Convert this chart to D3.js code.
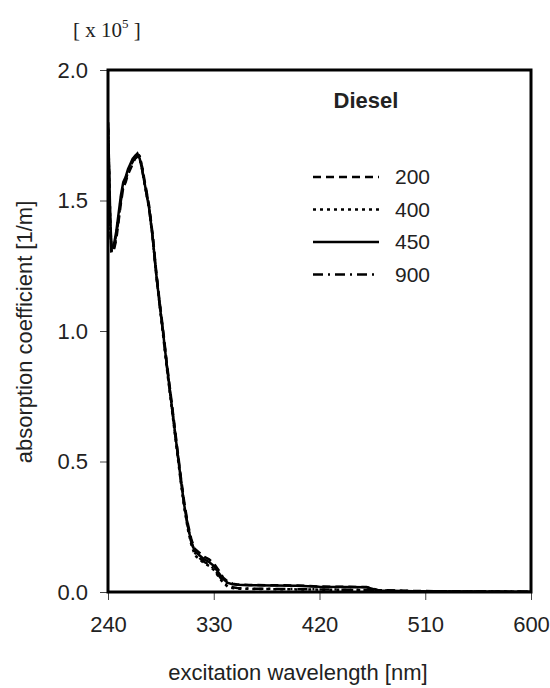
<!DOCTYPE html>
<html>
<head>
<meta charset="utf-8">
<script src="https://cdn.jsdelivr.net/npm/d3@7"></script>
<style>
  body { margin: 0; background: #fff; }
  svg text { font-family: Arial, "Liberation Sans", sans-serif; fill: #222; }
</style>
</head>
<body>
<div id="chart"></div>
<script>
// Diesel absorption spectra, values in units of 1e5 1/m
const wavelengths = [240,241,242,243,245,247,249,251,253,255,257,259,261,263,265,267,269,271,273,275,
  278,281,284,287,290,293,296,299,302,305,308,311,314,318,322,326,330,334,338,342,346,350,
  360,380,400,420,440,460,470,500,550,600];

const s200 = [1.78,1.58,1.38,1.30,1.31,1.35,1.42,1.49,1.55,1.57,1.60,1.62,1.64,1.66,1.67,1.66,1.63,1.58,1.53,1.48,
  1.37,1.23,1.11,1.00,0.88,0.77,0.66,0.55,0.44,0.34,0.26,0.20,0.165,0.15,0.135,0.125,0.11,0.085,0.055,0.04,0.032,0.029,
  0.027,0.026,0.025,0.021,0.02,0.019,0.007,0.004,0.002,0.001];
const s400 = [1.80,1.60,1.40,1.31,1.32,1.37,1.44,1.51,1.56,1.58,1.61,1.63,1.65,1.67,1.68,1.67,1.63,1.57,1.52,1.47,
  1.36,1.22,1.10,0.98,0.86,0.75,0.64,0.53,0.42,0.32,0.24,0.18,0.14,0.125,0.11,0.10,0.085,0.06,0.035,0.02,0.015,0.013,
  0.012,0.011,0.01,0.009,0.008,0.007,0.005,0.003,0.002,0.001];
const s450 = [1.80,1.62,1.42,1.32,1.33,1.38,1.45,1.52,1.57,1.59,1.62,1.64,1.66,1.67,1.68,1.66,1.62,1.57,1.52,1.47,
  1.36,1.22,1.10,0.99,0.87,0.76,0.65,0.54,0.43,0.33,0.25,0.19,0.155,0.14,0.125,0.115,0.10,0.075,0.05,0.035,0.03,0.028,
  0.026,0.025,0.024,0.02,0.019,0.018,0.006,0.003,0.002,0.001];
const s900 = [1.79,1.59,1.39,1.30,1.32,1.36,1.43,1.50,1.55,1.58,1.61,1.63,1.65,1.66,1.67,1.66,1.62,1.57,1.52,1.47,
  1.36,1.22,1.10,0.99,0.87,0.76,0.65,0.54,0.43,0.33,0.25,0.19,0.15,0.13,0.115,0.105,0.09,0.065,0.04,0.025,0.018,0.015,
  0.013,0.012,0.011,0.01,0.009,0.008,0.005,0.003,0.002,0.001];

const seriesNames = ['200', '400', '450', '900'];
const seriesValues = [s200, s400, s450, s900];
const dashes = ['8,5', '3,4', null, '10,5,2,5'];

const xTicks = [240, 330, 420, 510, 600];
const yTicks = [0, 0.5, 1.0, 1.5, 2.0];

const width = 550, height = 688;
const margin = { top: 70, right: 19, bottom: 96, left: 108 };

const svg = d3.select('#chart').append('svg')
  .attr('width', width)
  .attr('height', height);

const x = d3.scaleLinear().domain([240, 600]).range([margin.left, width - margin.right]);
const y = d3.scaleLinear().domain([0, 2]).range([height - margin.bottom, margin.top]);

svg.append('clipPath').attr('id', 'clip')
  .append('rect')
  .attr('x', margin.left).attr('y', margin.top)
  .attr('width', x(600) - x(240)).attr('height', y(0) - y(2));

// ticks
const xAxis = svg.append('g')
  .attr('transform', `translate(0,${y(0)})`)
  .call(d3.axisBottom(x).tickValues(xTicks).tickSize(8).tickPadding(16).tickFormat(d3.format('d')));
const yAxis = svg.append('g')
  .attr('transform', `translate(${x(240)},0)`)
  .call(d3.axisLeft(y).tickValues(yTicks).tickSize(8).tickPadding(12).tickFormat(d3.format('.1f')));

[xAxis, yAxis].forEach(a => {
  a.select('.domain').remove();
  a.selectAll('.tick line').attr('stroke', '#444').attr('stroke-width', 1);
  a.selectAll('.tick text').style('font-size', '22px').attr('fill', '#222');
});

// data lines
const line = d3.line()
  .x((d, i) => x(wavelengths[i]))
  .y(d => y(d));

svg.append('g').attr('clip-path', 'url(#clip)')
  .selectAll('path')
  .data(seriesValues)
  .join('path')
  .attr('d', d => line(d))
  .attr('fill', 'none')
  .attr('stroke', '#000')
  .attr('stroke-width', 2.5)
  .attr('stroke-dasharray', (d, i) => dashes[i]);

// frame
svg.append('rect')
  .attr('x', x(240)).attr('y', y(2))
  .attr('width', x(600) - x(240)).attr('height', y(0) - y(2))
  .attr('fill', 'none')
  .attr('stroke', '#000')
  .attr('stroke-width', 3);

// title inside plot
svg.append('text')
  .attr('x', 366).attr('y', 108)
  .attr('text-anchor', 'middle')
  .style('font-size', '22px').style('font-weight', 'bold')
  .attr('fill', '#000')
  .text('Diesel');

// legend
const legend = svg.append('g').selectAll('g')
  .data(seriesNames)
  .join('g')
  .attr('transform', (d, i) => `translate(313,${177 + i * 32.5})`);
legend.append('line')
  .attr('x1', 0).attr('x2', 66)
  .attr('stroke', '#000').attr('stroke-width', 2.5)
  .attr('stroke-dasharray', (d, i) => dashes[i]);
legend.append('text')
  .attr('x', 82).attr('dy', '0.35em')
  .style('font-size', '21px')
  .text(d => d);

// axis titles
svg.append('text')
  .attr('x', 298).attr('y', 680)
  .attr('text-anchor', 'middle')
  .style('font-size', '22px')
  .text('excitation wavelength [nm]');

svg.append('text')
  .attr('transform', 'translate(32,332) rotate(-90)')
  .attr('text-anchor', 'middle')
  .style('font-size', '22px')
  .text('absorption coefficient [1/m]');

// multiplier
const mult = svg.append('text')
  .attr('x', 73).attr('y', 37)
  .style('font-family', '"Liberation Serif", "DejaVu Serif", serif')
  .style('font-size', '21px');
mult.append('tspan').text('[ x 10');
mult.append('tspan').attr('dy', -9).style('font-size', '13px').text('5');
mult.append('tspan').attr('dy', 9).text(' ]');
</script>
</body>
</html>
